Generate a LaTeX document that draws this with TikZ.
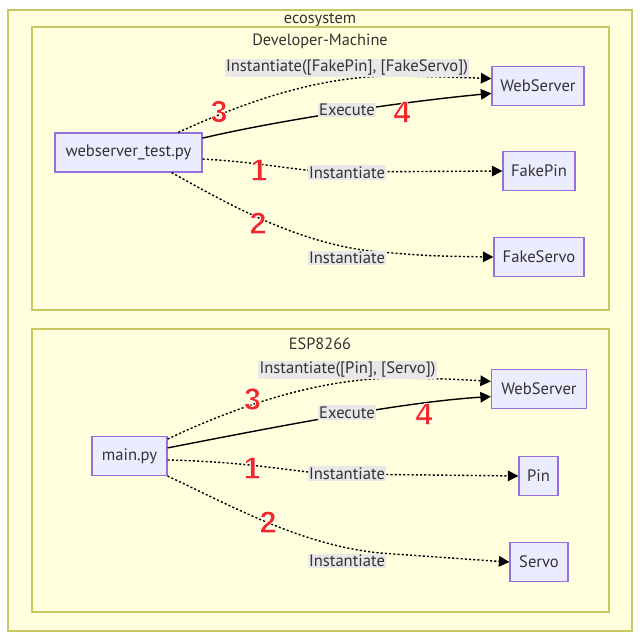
\documentclass[tikz,border=0pt]{standalone}
\usepackage{fontspec}
\setmainfont{PT Sans}
\newfontfamily\numfont{Liberation Sans}
\usetikzlibrary{arrows.meta}

\definecolor{clusterfill}{HTML}{FFFFDE}
\definecolor{clusterline}{HTML}{C8C860}
\definecolor{boxfill}{HTML}{ECECFF}
\definecolor{boxline}{HTML}{9370DB}
\definecolor{textgrey}{HTML}{333333}
\definecolor{labelgrey}{HTML}{E8E8E8}
\definecolor{markred}{HTML}{F02828}

\tikzset{
  cluster/.style={draw=clusterline, fill=clusterfill, line width=0.8pt},
  title/.style={text=textgrey, inner sep=1pt, font=\fontsize{11.6}{13}\selectfont},
  box/.style={draw=boxline, fill=boxfill, line width=0.8pt, minimum height=0.975cm,
    inner sep=0pt, text=textgrey, font=\fontsize{11.8}{13}\selectfont},
  edgelabel/.style={fill=labelgrey, inner sep=1pt, text=textgrey, font=\fontsize{11.8}{13}\selectfont},
  dottedlink/.style={draw=black, line width=1pt, dash pattern=on 1.5pt off 1.5pt,
    -{Triangle[length=7.5pt,width=7.5pt]}},
  solidlink/.style={draw=black, line width=1pt, -{Triangle[length=7.5pt,width=7.5pt]}},
  marknum/.style={inner sep=0pt, text=markred, font=\numfont\bfseries\fontsize{22}{22}\selectfont},
}

% red step number, white edge round the glyph
\newcommand{\stepmark}[3]{%
  \node[marknum] (#1) at (#2)
    {\special{pdf:literal direct 2 Tr 1 1 1 RG 0.5 w}#3\special{pdf:literal direct 0 Tr}};
}

\begin{document}
\begin{tikzpicture}[x=0.025cm, y=-0.025cm]
  \useasboundingbox[fill=white] (0,0) rectangle (640,636);

  % clusters
  \draw[cluster] (8,10) rectangle (632,631);
  \node[title] (ecolabel) at (320,20) {ecosystem};
  \draw[cluster] (32,27) rectangle (609,310);
  \node[title] (devlabel) at (320,41) {Developer-Machine};
  \draw[cluster] (32,329) rectangle (609,612);
  \node[title] (esplabel) at (320,344) {ESP8266};

  % Developer-Machine
  \node[box, minimum width=3.675cm] (wst) at (128.5,152.5) {webserver\_test.py};
  \node[box, minimum width=2.3cm] (webdev) at (538,86) {WebServer};
  \node[box, minimum width=1.8cm] (fakepin) at (539,171) {FakePin};
  \node[box, minimum width=2.25cm] (fakeservo) at (539,257) {FakeServo};

  \draw[dottedlink] (wst.22) .. controls (260,95) and (330,75) .. (400,76)
    .. controls (450,77) .. (webdev.171);
  \draw[solidlink] (wst.11) .. controls (280,120) and (400,102) .. (webdev.189);
  \draw[dottedlink] (wst.-5) .. controls (270,163) and (300,172) .. (340,172) -- (fakepin.west);
  \draw[dottedlink] (wst.-25) .. controls (230,205) and (300,245) .. (380,252)
    .. controls (430,256) .. (fakeservo.west);

  \node[edgelabel] (devinit) at (347,68) {Instantiate([FakePin], [FakeServo])};
  \node[edgelabel] (devexec) at (347,110) {Execute};
  \node[edgelabel] (devpin) at (347,172.5) {Instantiate};
  \node[edgelabel] (devservo) at (347,258) {Instantiate};

  \stepmark{devthree}{219,111.5}{3}
  \stepmark{devfour}{402,112}{4}
  \stepmark{devone}{259,170}{1}
  \stepmark{devtwo}{258,223}{2}

  % ESP8266
  \node[box, minimum width=1.875cm] (mainpy) at (129.5,456) {main.py};
  \node[box, minimum width=2.375cm] (webesp) at (539,389) {WebServer};
  \node[box, minimum width=0.975cm] (pin) at (538.5,476) {Pin};
  \node[box, minimum width=1.45cm] (servo) at (539,562) {Servo};

  \draw[dottedlink] (mainpy.24) .. controls (240,405) and (320,378) .. (400,378)
    .. controls (450,379) .. (webesp.171);
  \draw[solidlink] (mainpy.12) .. controls (260,430) and (400,402) .. (webesp.189);
  \draw[dottedlink] (mainpy.-6) .. controls (260,462) and (300,474) .. (340,474) -- (pin.west);
  \draw[dottedlink] (mainpy.south east) .. controls (230,505) and (300,545) .. (380,553)
    .. controls (440,558) .. (servo.west);

  \node[edgelabel] (espinit) at (347.5,370) {Instantiate([Pin], [Servo])};
  \node[edgelabel] (espexec) at (347,412.5) {Execute};
  \node[edgelabel] (esppin) at (347,473.5) {Instantiate};
  \node[edgelabel] (espservo) at (347,561) {Instantiate};

  \stepmark{espthree}{252.5,399}{3}
  \stepmark{espfour}{424,414}{4}
  \stepmark{espone}{252,468}{1}
  \stepmark{esptwo}{268,522}{2}
\end{tikzpicture}
\end{document}
